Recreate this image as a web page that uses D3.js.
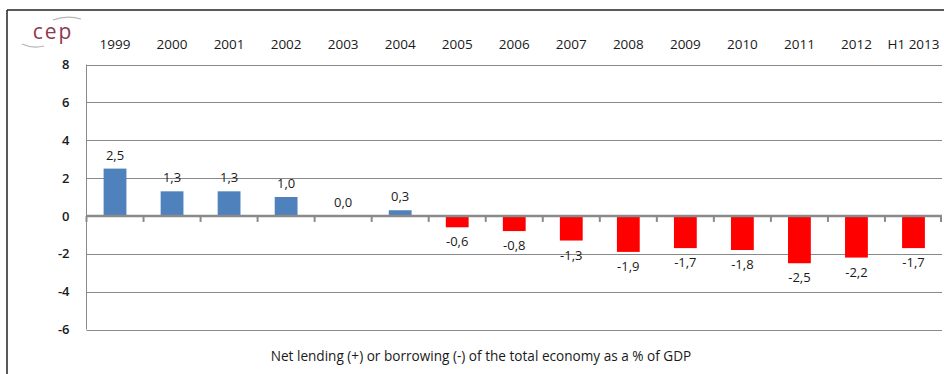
<!DOCTYPE html>
<html>
<head>
<meta charset="utf-8">
<script src="https://cdn.jsdelivr.net/npm/d3@7"></script>
<style>
  html, body { margin: 0; padding: 0; background: #fff; }
  svg { display: block; }
  text { font-family: "Open Sans", "Liberation Sans", sans-serif; fill: #1a1a1a; }
</style>
</head>
<body>
<svg id="chart" width="944" height="374"></svg>
<script>
// ---- data ----
const categories = ["1999","2000","2001","2002","2003","2004","2005","2006","2007","2008","2009","2010","2011","2012","H1 2013"];
const values = [2.5, 1.3, 1.3, 1.0, 0.0, 0.3, -0.6, -0.8, -1.3, -1.9, -1.7, -1.8, -2.5, -2.2, -1.7];
const yTicks = [8, 6, 4, 2, 0, -2, -4, -6];
const titleText = "Net lending (+) or borrowing (-) of the total economy as a % of GDP";
const logoText = "cep";

// ---- layout ----
const W = 944, H = 374;
const plot = { left: 86.5, right: 942, top: 64.5, bottom: 329.5 };
const svg = d3.select("#chart");

// frame
svg.append("line").attr("x1", 7).attr("x2", 7).attr("y1", 10).attr("y2", H)
  .attr("stroke", "#222").attr("stroke-width", 1.5);
svg.append("line").attr("x1", 7).attr("x2", W).attr("y1", 10).attr("y2", 10)
  .attr("stroke", "#222").attr("stroke-width", 1.5);

// scales
const x = d3.scaleBand().domain(categories).range([plot.left, plot.right]).paddingInner(0.6).paddingOuter(0.3);
const xb = d3.scaleBand().domain(categories).range([plot.left, plot.right]);
const y = d3.scaleLinear().domain([-6, 8]).range([plot.bottom, plot.top]);

// gridlines
svg.append("g").selectAll("line").data(yTicks.filter(d => d !== 0)).join("line")
  .attr("x1", plot.left).attr("x2", plot.right)
  .attr("y1", d => Math.round(y(d)) + 0.5).attr("y2", d => Math.round(y(d)) + 0.5)
  .attr("stroke", "#8a8a8a").attr("stroke-width", 1);

// left axis line
svg.append("line").attr("x1", plot.left).attr("x2", plot.left)
  .attr("y1", plot.top).attr("y2", plot.bottom)
  .attr("stroke", "#8a8a8a").attr("stroke-width", 1);

// y tick labels
const hy = v => String(v).replace("−", "-");
const yAxis = d3.axisLeft(y).tickValues(yTicks).tickSize(0).tickPadding(17).tickFormat(d => hy(d));
const gy = svg.append("g").attr("transform", `translate(${plot.left},0)`).call(yAxis);
gy.select(".domain").remove();
gy.selectAll("text").style("font-family", '"Open Sans", sans-serif').style("font-size", "13px")
  .style("font-weight", "600").attr("fill", "#1a1a1a");

// category labels at top
const xAxis = d3.axisTop(xb).tickSize(0).tickPadding(0);
const gx = svg.append("g").attr("transform", `translate(0,49)`).call(xAxis);
gx.select(".domain").remove();
gx.selectAll("text").style("font-family", '"Open Sans", sans-serif').style("font-size", "13.5px")
  .attr("fill", "#1a1a1a");

// bars
svg.append("g").selectAll("rect").data(values).join("rect")
  .attr("x", (d, i) => x(categories[i]))
  .attr("width", x.bandwidth())
  .attr("y", d => y(Math.max(0, d)))
  .attr("height", d => Math.abs(y(d) - y(0)))
  .attr("fill", d => d >= 0 ? "#4f81bd" : "#ff0000");

// zero axis with ticks
const y0 = y(0);
svg.append("line").attr("x1", plot.left).attr("x2", plot.right).attr("y1", y0).attr("y2", y0)
  .attr("stroke", "#8a8a8a").attr("stroke-width", 2.5);
const boundaries = categories.map(c => xb(c)).concat([plot.right]);
svg.append("g").selectAll("line").data(boundaries).join("line")
  .attr("x1", d => Math.min(d, plot.right - 1)).attr("x2", d => Math.min(d, plot.right - 1))
  .attr("y1", y0).attr("y2", y0 + 6)
  .attr("stroke", "#8a8a8a").attr("stroke-width", 2);

// value labels
const fmt = v => d3.format(".1f")(v).replace(".", ",").replace("−", "-");
svg.append("g").selectAll("text").data(values).join("text")
  .attr("x", (d, i) => xb(categories[i]) + xb.bandwidth() / 2)
  .attr("y", d => d >= 0 ? y(d) - 14 : y(d) + 14)
  .attr("text-anchor", "middle").attr("dominant-baseline", "central")
  .style("font-size", "13px")
  .text(d => fmt(d));

// title
svg.append("text").attr("x", 481).attr("y", 355)
  .attr("text-anchor", "middle").attr("dominant-baseline", "central")
  .style("font-size", "13.6px").text(titleText);

// logo
const logo = svg.append("g");
logo.append("text").attr("x", 53).attr("y", 38.5).attr("text-anchor", "middle")
  .style("font-size", "21px").style("letter-spacing", "2px")
  .style("fill", "#8c3a4f").text(logoText);
logo.append("path").attr("d", "M53,20 Q67,15 81,19").attr("fill", "none")
  .attr("stroke", "#b5b5b5").attr("stroke-width", 1.2);
logo.append("path").attr("d", "M22,44 Q33,49 44,46").attr("fill", "none")
  .attr("stroke", "#b5b5b5").attr("stroke-width", 1.2);
</script>
</body>
</html>
